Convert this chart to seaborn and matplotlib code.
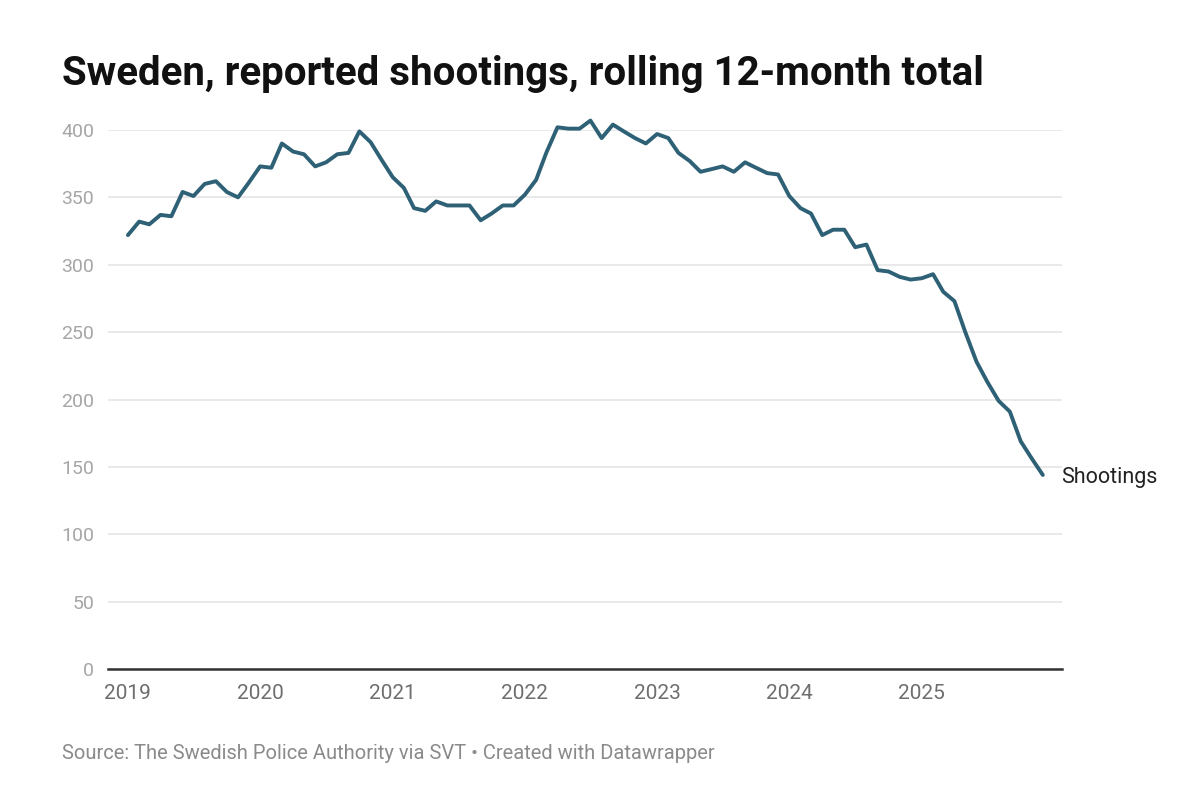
import pandas as pd
import seaborn as sns
import matplotlib.pyplot as plt
import matplotlib.dates as mdates

# rolling 12-month totals, one list per year (Jan..Dec)
y2019 = [322, 332, 330, 337, 336, 354, 351, 360, 362, 354, 350, 361]
y2020 = [373, 372, 390, 384, 382, 373, 376, 382, 383, 399, 391, 378]
y2021 = [365, 357, 342, 340, 347, 344, 344, 344, 333, 338, 344, 344]
y2022 = [352, 363, 383, 402, 401, 401, 407, 394, 404, 399, 394, 390]
y2023 = [397, 394, 383, 377, 369, 371, 373, 369, 376, 372, 368, 367]
y2024 = [351, 342, 338, 322, 326, 326, 313, 315, 296, 295, 291, 289]
y2025 = [290, 293, 280, 273, 250, 228, 213, 199, 191, 169, 156, 144]

values = y2019 + y2020 + y2021 + y2022 + y2023 + y2024 + y2025
months = pd.date_range("2019-01-01", periods=len(values), freq="MS")
df = pd.DataFrame({"Month": months, "Shootings": values})

year_ticks = ["2019", "2020", "2021", "2022", "2023", "2024", "2025"]
y_ticks = [0, 50, 100, 150, 200, 250, 300, 350, 400]

sns.set_theme(style="white")
plt.rcParams["font.family"] = ["Roboto", "DejaVu Sans"]

fig = plt.figure(figsize=(12, 7.99), dpi=100)
ax = fig.add_axes([0.09, 0.1627, 0.795, 0.6746])

sns.lineplot(data=df, x="Month", y="Shootings", ax=ax, color="#2e6076",
             linewidth=2.8, clip_on=False, zorder=3)

ax.set_ylim(0, 400)
ax.set_xlim(mdates.date2num(pd.Timestamp("2019-01-01")) - 55,
            mdates.date2num(pd.Timestamp("2025-12-01")) + 53)
ax.set_yticks(y_ticks)
ax.set_yticklabels([str(v) for v in y_ticks], color="#a6a6a6", fontsize=14)
ax.set_xticks([pd.Timestamp(f"{y}-01-01") for y in year_ticks])
ax.set_xticklabels(year_ticks, color="#6e6e6e", fontsize=15)
ax.tick_params(axis="both", length=0)
ax.tick_params(axis="y", pad=10)
ax.tick_params(axis="x", pad=11)
ax.grid(axis="y", color="#e3e3e3", linewidth=1.1)
ax.grid(axis="x", visible=False)
for s in ["top", "right", "left"]:
    ax.spines[s].set_visible(False)
ax.spines["bottom"].set_color("#333333")
ax.spines["bottom"].set_linewidth(1.8)
ax.spines["bottom"].set_zorder(4)
ax.set_xlabel("")
ax.set_ylabel("")

ax.annotate("Shootings", xy=(df["Month"].iloc[-1], df["Shootings"].iloc[-1]),
            xytext=(13, -2), textcoords="offset points", fontsize=15.5,
            color="#222222", va="center", ha="left", annotation_clip=False)

fig.text(0.052, 0.907, "Sweden, reported shootings, rolling 12-month total",
         fontsize=29, fontweight="bold", color="#111111", va="center", ha="left")
fig.text(0.052, 0.057, "Source: The Swedish Police Authority via SVT \u2022 Created with Datawrapper",
         fontsize=14.5, color="#8a8a8a", va="center", ha="left")

fig.savefig("out.png", dpi=100)
plt.close()
